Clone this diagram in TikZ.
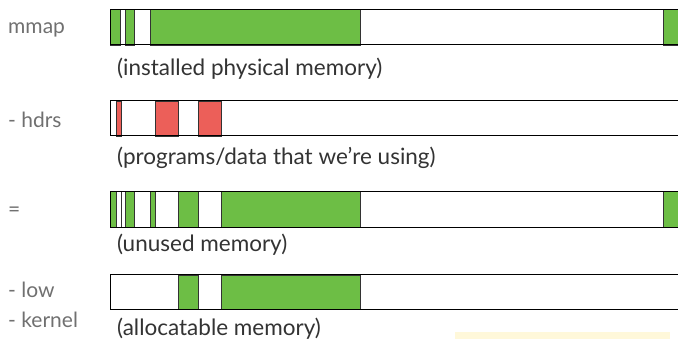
\documentclass[tikz,border=0pt]{standalone}
\usepackage{fontspec}
\setmainfont{Lato}
\usetikzlibrary{positioning}
\definecolor{memgreen}{HTML}{6DBE45}
\definecolor{memred}{HTML}{EC5F59}
\definecolor{labelgray}{HTML}{707070}
\definecolor{capgray}{HTML}{333333}
\definecolor{hilite}{HTML}{FFF8DA}
\tikzset{
  bar/.style={draw=black,line width=1pt,fill=white},
  used/.style={draw=black!80,line width=0.8pt,fill=memgreen},
  hdr/.style={draw=black!80,line width=0.8pt,fill=memred},
  rowlabel/.style={anchor=base west,inner sep=0pt,text=labelgray,
    font=\fontsize{21}{24}\selectfont},
  caption/.style={anchor=base west,inner sep=0pt,text=capgray,
    font=\fontsize{22.5}{26}\selectfont}
}

\begin{document}
\begin{tikzpicture}[x=1pt,y=-1pt]
  \useasboundingbox (0,0) rectangle (678,339);
  \clip (0,0) rectangle (678,339);

  % mmap
  \node[rowlabel] (mmap) at (8,34) {mmap};
  \draw[bar] (110.7,9.3) rectangle (690,45);
  \draw[used] (110.7,9.3) rectangle (120.7,45);
  \draw[used] (125,9.3) rectangle (134.3,45);
  \draw[used] (150.7,9.3) rectangle (360,45);
  \draw[used] (663,9.3) rectangle (690,45);
  \draw[line width=1pt] (110.7,9.3) rectangle (690,45);
  \node[caption] (installed) at (117,76) {(installed physical memory)};

  % hdrs
  \node[rowlabel] (hdrs) at (8,128) {- hdrs};
  \draw[bar] (110.7,101) rectangle (690,136);
  \draw[hdr] (116.7,101) rectangle (121,136);
  \draw[hdr] (155.3,101) rectangle (178.3,136);
  \draw[hdr] (198.3,101) rectangle (221.3,136);
  \draw[line width=1pt] (110.7,101) rectangle (690,136);
  \node[caption] (programs) at (117,165) {(programs/data that we're using)};

  % result
  \node[rowlabel] (equals) at (8,217) {=};
  \draw[bar] (110.7,191.7) rectangle (690,227.3);
  \draw[used] (110.7,191.7) rectangle (116.7,227.3);
  \draw[draw=black!80,line width=0.8pt] (121,191.7) -- (121,227.3);
  \draw[used] (125,191.7) rectangle (134.3,227.3);
  \draw[used] (150.7,191.7) rectangle (155.3,227.3);
  \draw[used] (178.3,191.7) rectangle (198.3,227.3);
  \draw[used] (221.3,191.7) rectangle (360,227.3);
  \draw[used] (663,191.7) rectangle (690,227.3);
  \draw[line width=1pt] (110.7,191.7) rectangle (690,227.3);
  \node[caption] (unused) at (117,252) {(unused memory)};

  % low + kernel
  \node[rowlabel] (low) at (8,298) {- low};
  \node[rowlabel] (kernel) at (8,327) {- kernel};
  \draw[bar] (110.7,275) rectangle (690,309.3);
  \draw[used] (178.3,275) rectangle (198.3,309.3);
  \draw[used] (221.3,275) rectangle (360,309.3);
  \draw[line width=1pt] (110.7,275) rectangle (690,309.3);
  \node[caption] (allocatable) at (117,335) {(allocatable memory)};

  \fill[hilite] (455,332) rectangle (670,339);
\end{tikzpicture}
\end{document}
